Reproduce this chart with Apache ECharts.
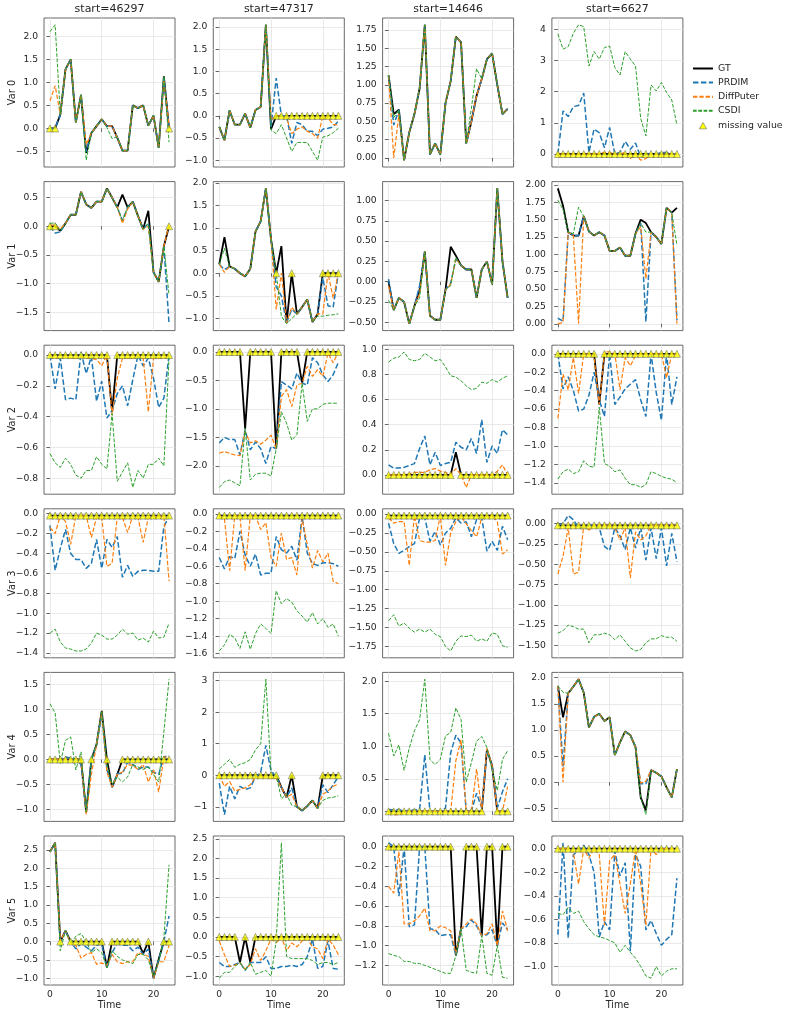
<!DOCTYPE html>
<html>
<head>
<meta charset="utf-8">
<script src="https://cdn.jsdelivr.net/npm/echarts@6/dist/echarts.min.js"></script>
<style>
html,body{margin:0;padding:0;background:#fff;}
#chart{width:790px;height:1015px;}
</style>
</head>
<body>
<div id="chart"></div>
<script>
// column titles / row labels
var starts = [46297, 47317, 14646, 6627];
var varNames = ['Var 0', 'Var 1', 'Var 2', 'Var 3', 'Var 4', 'Var 5'];
var timeTicks = [0, 10, 20];

// ---------------- Var 0 ----------------
var gt0 = [
  [0,0,0.3,1.28,1.5,0.13,0.73,-0.53,-0.1,0.05,0.2,0.05,0.05,-0.2,-0.48,-0.48,0.5,0.44,0.5,0.06,0.28,-0.42,1.13,0],
  [-0.25,-0.55,0.12,-0.2,-0.2,0.05,-0.27,0.13,0.2,2.05,-0.3,0,0,0,0,0,0,0,0,0,0,0,0,0],
  [1.13,0.6,0.66,-0.03,0.35,0.6,0.95,1.82,0.05,0.2,0.05,0.75,1.05,1.66,1.58,0.2,0.5,0.85,1.08,1.35,1.43,1.0,0.6,0.67],
  [0,0,0,0,0,0,0,0,0,0,0,0,0,0,0,0,0,0,0,0,0,0,0,0]
];
var prdim0 = [
  [0,0,0.3,1.28,1.5,0.13,0.73,-0.5,-0.1,0.05,0.2,0.05,0.05,-0.2,-0.48,-0.48,0.5,0.44,0.5,0.06,0.28,-0.42,1.1,0],
  [-0.25,-0.55,0.12,-0.2,-0.2,0.05,-0.27,0.13,0.2,2.05,-0.25,0.85,0,0,-0.62,-0.15,-0.2,-0.35,-0.35,-0.45,-0.3,-0.28,-0.25,-0.12],
  [1.13,0.45,0.66,-0.03,0.35,0.6,0.95,1.82,0.05,0.2,0.05,0.75,1.05,1.66,1.58,0.2,0.5,0.85,1.08,1.35,1.43,1.0,0.6,0.67],
  [0,1.38,1.2,1.52,1.55,1.95,0.05,0.8,0.68,0.2,0.85,0,0.05,0.4,0.15,0.35,-0.1,0,0,0,0.05,0.05,0,0]
];
var diff0 = [
  [0.6,0.93,0.3,1.28,1.5,0.13,0.73,-0.35,-0.1,0.05,0.2,0.05,0.05,-0.2,-0.48,-0.48,0.5,0.44,0.5,0.06,0.28,-0.42,1.05,0.05],
  [-0.25,-0.55,0.12,-0.2,-0.2,0.05,-0.27,0.13,0.2,2.05,-0.1,0,0,-0.05,-0.4,-0.3,-0.25,-0.35,-0.4,-0.5,0,-0.05,-0.2,-0.2],
  [1.13,0,0.6,-0.03,0.35,0.6,0.95,1.82,0.05,0.2,0.05,0.75,1.05,1.66,1.58,0.2,0.5,0.85,1.08,1.35,1.43,1.0,0.6,0.67],
  [0,0,0,0,0,0,0,0,0.02,0.05,0.05,0,0,0.05,-0.15,0,-0.2,-0.15,0,0,0,0,0,0]
];
var csdi0 = [
  [2.1,2.25,0.3,1.28,1.5,0.13,0.73,-0.69,-0.1,0.05,0.2,0.02,-0.22,-0.18,-0.48,-0.48,0.5,0.44,0.5,0.06,0.28,-0.42,1.13,-0.3],
  [-0.25,-0.55,0.12,-0.2,-0.2,0.05,-0.27,0.13,0.2,2.05,-0.32,-0.4,-0.2,-0.5,-0.8,-0.6,-0.6,-0.6,-0.8,-1.0,-0.48,-0.45,-0.38,-0.28],
  [1.13,0.55,0.66,-0.03,0.35,0.6,0.95,1.82,0.05,0.2,0.05,0.75,1.05,1.66,1.58,0.2,0.68,1.22,1.08,1.35,1.43,1.0,0.6,0.67],
  [3.85,3.36,3.44,3.87,4.14,4.08,2.82,3.28,3.04,3.41,3.46,2.77,2.53,3.28,3.04,2.82,1.14,0.58,2.21,2.02,2.29,1.97,1.73,0.93]
];
var miss0 = [
  [0,1,23],
  [11,12,13,14,15,16,17,18,19,20,21,22,23],
  [],
  [0,1,2,3,4,5,6,7,8,9,10,11,12,13,14,15,16,17,18,19,20,21,22,23]
];
var yTicks0 = [[-0.5,0,0.5,1,1.5,2],[-1,-0.5,0,0.5,1,1.5,2],[0,0.25,0.5,0.75,1,1.25,1.5,1.75],[0,1,2,3,4]];

// ---------------- Var 1 ----------------
var gt1 = [
  [0,0,-0.08,0.05,0.2,0.2,0.6,0.38,0.32,0.43,0.43,0.66,0.5,0.33,0.55,0.33,0.43,0.18,-0.05,0.27,-0.8,-0.97,-0.35,0],
  [0.2,0.8,0.15,0.1,0,-0.07,0.1,0.92,1.15,1.88,0.75,0,0.6,-1.1,0,-0.9,-0.75,-0.58,-1.08,-0.9,0,0,0,0],
  [0,-0.35,-0.2,-0.25,-0.52,-0.3,-0.1,0.37,-0.42,-0.47,-0.47,-0.1,0.43,0.32,0.2,0.15,0.15,-0.2,0.15,0.25,-0.03,1.15,0.25,-0.2],
  [1.95,1.7,1.32,1.27,1.27,1.55,1.33,1.27,1.32,1.27,1.05,1.05,1.1,0.98,0.98,1.3,1.5,1.45,1.32,1.25,1.15,1.67,1.6,1.67]
];
var prdim1 = [
  [0,-0.12,-0.1,0.05,0.2,0.2,0.6,0.38,0.32,0.43,0.43,0.66,0.5,0.33,0.1,0.33,0.43,0.18,-0.05,0.05,-0.8,-0.97,-0.35,-1.7],
  [0.2,0.08,0.15,0.1,0,-0.07,0.1,0.92,1.15,1.88,0.75,-0.3,-0.5,-1.1,-0.8,-0.9,-0.75,-0.58,-1.08,-0.9,-0.1,-0.72,-0.75,0],
  [0.03,-0.35,-0.2,-0.25,-0.52,-0.3,-0.05,0.37,-0.42,-0.47,-0.47,-0.1,-0.02,0.28,0.2,0.15,0.15,-0.2,0.15,0.25,-0.03,1.15,0.25,-0.2],
  [0.08,0.04,1.32,1.27,1.27,1.55,1.33,1.27,1.32,1.27,1.05,1.05,1.1,0.98,0.98,1.3,1.45,0.03,1.32,1.25,1.15,1.67,1.6,0.05]
];
var diff1 = [
  [0.02,0.02,-0.05,0.05,0.2,0.2,0.6,0.38,0.32,0.43,0.43,0.66,0.5,0.33,0.05,0.3,0.43,0.18,-0.05,0,-0.8,-0.97,-0.35,0.03],
  [0.2,0.02,0.15,0.1,0,-0.07,0.1,0.92,1.15,1.88,0.75,-0.8,0,-1.1,-0.75,-0.9,-0.75,-0.58,-1.08,-0.9,-0.9,0,-0.55,0],
  [-0.05,-0.35,-0.2,-0.25,-0.52,-0.3,-0.15,0.37,-0.42,-0.47,-0.47,-0.1,-0.03,0.28,0.2,0.15,0.15,-0.2,0.15,0.25,-0.03,1.15,0.25,-0.2],
  [0,0.02,1.32,1.27,0,1.55,1.33,1.27,1.32,1.27,1.05,1.05,1.1,0.98,0.98,1.3,1.4,0.65,1.32,1.25,1.15,1.67,1.6,0]
];
var csdi1 = [
  [0.05,0.06,-0.08,0.05,0.2,0.2,0.6,0.38,0.32,0.43,0.43,0.66,0.5,0.33,0.1,0.33,0.43,0.18,-0.05,0.05,-0.8,-0.97,-0.35,-1.2],
  [0.2,0.55,0.15,0.1,0,-0.07,0.1,0.92,1.15,1.88,0.75,0,-0.95,-1.12,-1.0,-0.9,-0.75,-0.58,-1.08,-0.95,-0.95,-0.93,-0.92,-0.9],
  [-0.23,-0.35,-0.2,-0.25,-0.52,-0.3,-0.2,0.37,-0.42,-0.47,-0.47,-0.1,-0.05,0.3,0.2,0.15,0.15,-0.2,0.15,0.25,-0.03,1.15,0.25,-0.2],
  [1.78,1.65,1.32,1.3,1.68,1.55,1.33,1.27,1.32,1.27,1.05,1.05,1.1,0.98,0.98,1.3,1.45,1.32,1.32,1.25,1.15,1.67,1.6,1.13]
];
var miss1 = [
  [0,1,23],
  [11,14,20,21,22,23],
  [],
  []
];
var yTicks1 = [[-1.5,-1,-0.5,0,0.5],[-1,-0.5,0,0.5,1,1.5,2],[-0.5,-0.25,0,0.25,0.5,0.75,1],[0,0.25,0.5,0.75,1,1.25,1.5,1.75,2]];

// ---------------- Var 2 ----------------
var gt2 = [
  [0,0,0,0,0,0,0,0,0,0,0,0,-0.37,0,0,0,0,0,0,0,0,0,0,0],
  [0,0,0,0,0,-1.35,0,0,0,0,0,-1.7,0,0,0,0,-0.55,0,0,0,0,0,0,0],
  [0,0,0,0,0,0,0,0,0,0,0,0,0,0.18,0,0,0,0,0,0,0,0,0,0],
  [0,0,0,0,0,0,0,0,-0.55,0,0,0,0,0,0,0,0,0,0,0,0,0,0,0]
];
var prdim2 = [
  [0,-0.22,-0.02,-0.29,-0.28,-0.29,0.02,-0.12,-0.01,-0.3,-0.17,-0.41,-0.36,-0.25,-0.2,-0.33,-0.16,0,-0.07,-0.02,-0.15,-0.34,-0.28,0],
  [-1.6,-1.5,-1.54,-1.54,-1.81,-1.37,-1.72,-1.58,-1.7,-1.96,-1.66,-1.7,-0.52,-0.58,-0.65,-0.37,-0.55,-0.58,-0.1,-0.19,-0.4,-0.52,-0.4,-0.18],
  [0.08,0.054,0.054,0.06,0.075,0.09,0.21,0.31,0.08,0.18,0.075,0.09,0.1,0.26,0.22,0.2,0.29,0.17,0.44,0.1,0.23,0.17,0.36,0.32],
  [0,-0.38,-0.25,-0.4,-0.62,-0.6,-0.45,-0.2,-0.5,-0.68,0,-0.55,-0.47,-0.38,-0.33,-0.28,-0.5,-0.68,0,-0.42,-0.72,0,-0.55,-0.25]
];
var diff2 = [
  [0,-0.02,-0.02,-0.01,-0.02,-0.02,-0.01,-0.02,-0.02,-0.03,-0.07,0,-0.39,-0.15,-0.02,-0.02,-0.02,0,-0.02,-0.37,-0.02,-0.02,-0.02,0],
  [-1.78,-1.75,-1.78,-1.81,-1.82,-1.4,-1.6,-1.56,-1.62,-1.55,-1.46,-1.7,-0.78,-0.66,-0.96,-0.58,-0.55,-0.25,-0.43,-0.31,-0.43,-0.02,-0.19,0],
  [0,0,0,0,0.01,0.02,0.02,0.02,0.04,0.05,0.03,0.02,0,0.05,0,-0.1,0,0,0,0,0,0.03,0.08,0],
  [-0.7,-0.22,-0.39,-0.04,-0.43,0,0,-0.04,-0.55,0.02,0.02,0,-0.39,-0.04,-0.13,-0.02,0,0,0,0,0,-0.26,0,0]
];
var csdi2 = [
  [-0.64,-0.7,-0.73,-0.67,-0.71,-0.78,-0.8,-0.75,-0.75,-0.66,-0.71,-0.74,-0.38,-0.82,-0.76,-0.7,-0.86,-0.75,-0.8,-0.71,-0.71,-0.67,-0.72,-0.02],
  [-2.38,-2.28,-2.25,-2.3,-2.35,-1.35,-2.25,-2.15,-2.13,-2.13,-2.18,-1.7,-1.05,-1.25,-1.55,-1.45,-0.55,-1.22,-1.0,-1.0,-0.92,-0.9,-0.9,-0.9],
  [0.9,0.93,0.94,0.98,0.92,0.91,0.92,0.97,0.94,0.91,0.92,0.86,0.79,0.78,0.75,0.71,0.68,0.69,0.74,0.73,0.76,0.74,0.77,0.79],
  [-1.36,-1.28,-1.25,-1.3,-1.28,-1.16,-1.22,-1.23,-0.58,-1.19,-1.22,-1.28,-1.26,-1.35,-1.42,-1.42,-1.45,-1.42,-1.28,-1.3,-1.33,-1.35,-1.36,-1.4]
];
var miss2 = [
  [0,1,2,3,4,5,6,7,8,9,10,11,13,14,15,16,17,18,19,20,21,22,23],
  [0,1,2,3,4,6,7,8,9,10,12,13,14,15,17,18,19,20,21,22,23],
  [0,1,2,3,4,5,6,7,8,9,10,11,12,14,15,16,17,18,19,20,21,22,23],
  [0,1,2,3,4,5,6,7,9,10,11,12,13,14,15,16,17,18,19,20,21,22,23]
];
var yTicks2 = [[-0.8,-0.6,-0.4,-0.2,0],[-2.5,-2,-1.5,-1,-0.5,0],[0,0.2,0.4,0.6,0.8,1],[-1.4,-1.2,-1,-0.8,-0.6,-0.4,-0.2,0]];

// ---------------- Var 3 ----------------
var gt3 = [
  [-0.02,-0.02,-0.02,-0.02,-0.02,-0.02,-0.02,-0.02,-0.02,-0.02,-0.02,-0.02,-0.02,-0.02,-0.02,-0.02,-0.02,-0.02,-0.02,-0.02,-0.02,-0.02,-0.02,-0.02],
  [-0.02,-0.02,-0.02,-0.02,-0.02,-0.02,-0.02,-0.02,-0.02,-0.02,-0.02,-0.02,-0.02,-0.02,-0.02,-0.02,-0.02,-0.02,-0.02,-0.02,-0.02,-0.02,-0.02,-0.02],
  [-0.02,-0.02,-0.02,-0.02,-0.02,-0.02,-0.02,-0.02,-0.02,-0.02,-0.02,-0.02,-0.02,-0.02,-0.02,-0.02,-0.02,-0.02,-0.02,-0.02,-0.02,-0.02,-0.02,-0.02],
  [-0.02,-0.02,-0.02,-0.02,-0.02,-0.02,-0.02,-0.02,-0.02,-0.02,-0.02,-0.02,-0.02,-0.02,-0.02,-0.02,-0.02,-0.02,-0.02,-0.02,-0.02,-0.02,-0.02,-0.02]
];
var prdim3 = [
  [-0.12,-0.57,-0.35,-0.16,-0.4,-0.46,-0.46,-0.55,-0.5,-0.26,-0.55,-0.26,-0.34,-0.23,-0.64,-0.52,-0.63,-0.58,-0.57,-0.57,-0.58,-0.58,-0.13,-0.03],
  [-0.5,-0.63,-0.49,-0.51,-0.2,-0.47,-0.6,-0.46,-0.7,-0.68,-0.68,-0.26,-0.41,-0.45,-0.37,-0.53,-0.03,-0.45,-0.57,-0.59,-0.56,-0.56,-0.57,-0.6],
  [-0.12,-0.39,-0.52,-0.48,-0.43,-0.39,-0.05,-0.05,-0.36,-0.23,-0.41,-0.25,-0.19,-0.05,-0.12,-0.1,-0.3,-0.07,-0.05,-0.49,-0.36,-0.48,-0.16,-0.34],
  [0,0,0.1,0.05,-0.05,-0.05,-0.02,-0.02,-0.05,-0.28,-0.33,-0.05,-0.15,-0.32,-0.05,-0.3,-0.05,-0.45,-0.05,-0.43,-0.05,-0.52,-0.12,-0.47]
];
var diff3 = [
  [-0.14,-0.2,-0.02,-0.08,-0.31,-0.02,-0.02,-0.02,-0.24,-0.04,-0.04,-0.53,-0.5,-0.04,-0.04,-0.19,-0.02,-0.04,-0.29,-0.04,-0.04,-0.03,-0.02,-0.68],
  [-0.02,-0.05,-0.65,-0.02,-0.03,-0.65,-0.02,-0.02,-0.18,-0.1,-0.5,-0.6,-0.22,-0.52,-0.5,-0.7,-0.05,-0.35,-0.62,-0.42,-0.55,-0.45,-0.77,-0.8],
  [-0.05,-0.12,-0.1,-0.1,-0.68,-0.02,-0.35,-0.37,-0.37,-0.35,-0.02,-0.68,-0.25,-0.1,-0.03,-0.13,-0.22,-0.3,-0.05,-0.05,-0.02,-0.1,-0.53,-0.47],
  [-0.62,-0.4,-0.05,-0.62,-0.6,-0.02,-0.08,-0.02,-0.02,-0.02,-0.02,-0.05,-0.2,-0.05,-0.67,-0.1,-0.2,-0.15,-0.02,-0.02,-0.02,-0.02,-0.02,-0.02]
];
var csdi3 = [
  [-1.2,-1.16,-1.29,-1.35,-1.36,-1.38,-1.38,-1.36,-1.3,-1.2,-1.22,-1.26,-1.26,-1.22,-1.16,-1.21,-1.2,-1.27,-1.25,-1.29,-1.18,-1.25,-1.24,-1.1],
  [-1.57,-1.5,-1.38,-1.42,-1.54,-1.35,-1.55,-1.37,-1.26,-1.31,-1.37,-0.88,-1.03,-0.97,-1.01,-1.11,-1.17,-1.24,-1.13,-1.26,-1.2,-1.3,-1.26,-1.4],
  [-1.41,-1.33,-1.48,-1.44,-1.51,-1.56,-1.52,-1.56,-1.52,-1.59,-1.62,-1.75,-1.81,-1.68,-1.61,-1.62,-1.6,-1.68,-1.65,-1.68,-1.57,-1.59,-1.74,-1.76],
  [-1.35,-1.32,-1.25,-1.27,-1.3,-1.3,-1.47,-1.37,-1.37,-1.35,-1.37,-1.43,-1.37,-1.45,-1.53,-1.57,-1.55,-1.47,-1.42,-1.42,-1.38,-1.4,-1.4,-1.45]
];
var miss3 = [
  [0,1,2,3,4,5,6,7,8,9,10,11,12,13,14,15,16,17,18,19,20,21,22,23],
  [0,1,2,3,4,5,6,7,8,9,10,11,12,13,14,15,16,17,18,19,20,21,22,23],
  [0,1,2,3,4,5,6,7,8,9,10,11,12,13,14,15,16,17,18,19,20,21,22,23],
  [0,1,2,3,4,5,6,7,8,9,10,11,12,13,14,15,16,17,18,19,20,21,22,23]
];
var yTicks3 = [[-1.4,-1.2,-1,-0.8,-0.6,-0.4,-0.2,0],[-1.6,-1.4,-1.2,-1,-0.8,-0.6,-0.4,-0.2,0],[-1.75,-1.5,-1.25,-1,-0.75,-0.5,-0.25,0],[-1.5,-1.25,-1,-0.75,-0.5,-0.25,0]];

// ---------------- Var 4 ----------------
var gt4 = [
  [0,0,0,0,0,0,0,-1.05,0,0.3,0.97,0,-0.55,-0.3,0,0,0,0,0,0,0,0,0,0],
  [0,0,0,0,0,0,0,0,0,0,0,0,-0.38,-0.7,0,-1.0,-1.12,-0.98,-0.8,-1.05,0,0,0,0],
  [0,0,0,0,0,0,0,0,0,0,0,0,0,0,0,0,0,0,0,0.95,0.7,0,0,0],
  [1.84,1.24,1.7,1.83,1.97,1.71,1.05,1.25,1.31,1.17,1.24,0.52,0.76,0.97,0.9,0.67,-0.29,-0.54,0.23,0.18,0.11,-0.1,-0.29,0.25]
];
var prdim4 = [
  [0,0,0,0.05,0.03,0,-0.1,-1.05,0,0.3,0.9,-0.2,-0.55,-0.28,-0.28,-0.05,-0.1,-0.2,-0.15,-0.15,-0.25,-0.3,0.05,0.08],
  [-0.25,-1.25,-0.35,-0.75,-0.35,-0.45,-0.4,-0.05,0.1,0.95,0.15,-0.05,-0.38,-0.7,-0.4,-1.0,-1.12,-0.98,-0.8,-1.05,-0.3,-0.55,-0.3,-0.05],
  [0.03,0.02,0.03,0,0.02,0.02,0.03,0.87,0,0,0,0.05,0.9,1.17,1.05,0,0,0.28,0.05,0.93,0.7,0.05,0.3,0.5],
  [1.84,0.3,1.7,1.83,1.97,1.71,1.05,1.25,1.31,1.17,1.24,0.52,0.76,0.97,0.9,0.67,-0.03,-0.03,0.23,0.18,0.11,-0.1,-0.29,0.25]
];
var diff4 = [
  [0,0,0,0,0,0,0,-1.1,-0.3,0.3,0.95,-0.25,-0.55,-0.3,-0.25,-0.1,-0.12,-0.2,-0.1,-0.45,-0.2,-0.65,0.05,0.03],
  [0,-0.35,-0.2,-0.5,-0.45,-0.4,-0.3,-0.05,-0.05,-0.05,-0.1,-0.1,-0.38,-0.7,-0.6,-1.0,-1.12,-0.98,-0.8,-1.05,-0.6,-0.5,-0.35,-0.28],
  [0,-0.05,-0.05,0,0,0,0,0,0,0,0,0,0,0.78,1.1,0,0,0.65,0,0.97,0.7,0,0,0.38],
  [1.84,0,1.7,1.83,1.97,1.71,1.05,1.25,1.31,1.17,1.24,0.52,0.76,0.97,0.9,0.67,-0.02,0.02,0.23,0.18,0.11,-0.1,-0.29,0.25]
];
var csdi4 = [
  [1.11,0.93,-0.08,0.38,0.45,-0.21,0.15,-1.05,0,0.3,0.97,-0.1,-0.5,-0.35,-0.45,-0.35,-0.1,-0.15,-0.2,-0.15,-0.3,-0.45,0.55,1.6],
  [0.2,0.35,0.5,0.25,0.35,0.4,0.5,0.8,1.0,3.05,0.05,0,-0.75,-0.6,-0.95,-1.0,-1.12,-0.98,-0.8,-1.05,-0.8,-0.72,-0.7,-0.65],
  [1.2,0.85,1.02,0.63,0.97,1.24,1.41,2.03,0.79,0.72,0.8,1.16,1.21,1.59,1.41,0.45,0.75,1.08,1.15,0.98,0.63,0.32,0.8,0.93],
  [1.84,1.72,1.7,1.83,1.97,1.71,1.05,1.25,1.31,1.17,1.24,0.52,0.76,0.97,0.9,0.67,-0.29,-0.62,0.23,0.18,0.11,-0.1,-0.29,0.25]
];
var miss4 = [
  [0,1,2,3,4,5,6,8,11,14,15,16,17,18,19,20,21,22,23],
  [0,1,2,3,4,5,6,7,8,9,10,11,14,20,21,22,23],
  [0,1,2,3,4,5,6,7,8,9,10,11,12,13,14,15,16,17,18,21,22,23],
  []
];
var yTicks4 = [[-1,-0.5,0,0.5,1,1.5],[-1,0,1,2,3],[0,0.5,1,1.5,2],[-0.5,0,0.5,1,1.5,2]];

// ---------------- Var 5 ----------------
var gt5 = [
  [2.45,2.7,0,0.3,0,0,0,0,0,0,0,-0.7,0,0,0,0,0,0,-0.33,0,-1.0,-0.48,0,0],
  [0,0,0,0,-0.65,0,-0.65,0,0,0,0,0,0,0,0,0,0,0,0,0,0,0,0,0],
  [0,0,0,0,0,0,0,0,0,0,0,0,0,-1.1,-0.83,0,0,0,-0.9,0,0,-1.0,0,0],
  [0,0,0,0,0,0,0,0,0,0,0,0,0,0,0,0,0,0,0,0,0,0,0,0]
];
var prdim5 = [
  [2.45,2.7,-0.05,0.3,0,-0.2,-0.05,-0.15,-0.25,-0.1,-0.05,-0.72,-0.3,-0.05,-0.1,-0.1,-0.25,-0.15,-0.35,-0.2,-1.0,-0.5,0,0.7],
  [-0.65,-0.75,-0.75,-0.7,-0.65,-0.85,-0.65,-0.65,-0.65,-0.5,-0.8,-0.8,-0.75,-0.75,-0.72,-0.75,-0.7,-0.5,-0.05,-0.8,-0.75,-0.1,-0.8,-0.82],
  [0.04,0,-0.5,0,-0.81,-0.79,0,0,-0.83,-0.84,-0.9,-0.89,-0.89,-1.1,-0.83,-0.81,-0.74,-0.8,-0.9,-0.89,-0.84,-1.0,-0.77,-0.84],
  [-0.73,0.05,-0.76,-0.05,-0.02,0.03,-0.05,-0.2,-0.75,-0.62,-0.69,-0.02,-0.23,-0.12,-0.87,-0.05,-0.15,-0.69,-0.61,-0.72,-0.82,-0.77,-0.73,-0.25]
];
var diff5 = [
  [2.45,2.7,0,0.3,-0.05,-0.1,-0.45,-0.35,-0.3,-0.62,-0.58,-0.65,-0.35,-0.55,-0.6,-0.55,-0.55,-0.3,-0.35,-0.4,-1.0,-0.55,-0.55,-0.1],
  [-0.1,-0.45,-0.75,-0.72,-0.65,-0.82,-0.7,-0.3,-0.6,-0.35,-0.05,-0.15,0,-0.35,-0.15,-0.25,-0.1,-0.05,-0.25,-0.3,-0.55,-0.05,-0.2,-0.45],
  [-0.4,-0.47,-0.05,-0.78,-0.78,-0.75,-0.7,-0.62,-0.85,-0.85,-0.8,-0.82,-0.85,-1.08,-0.83,-0.78,-0.73,-0.78,-0.9,-0.88,-0.78,-1.0,-0.65,-0.85],
  [0,0,0,-0.03,-0.3,0,-0.08,0,-0.05,-0.65,-0.1,-0.05,-0.3,-0.55,-0.3,0,-0.3,-0.65,0,-0.05,0,0,0,0]
];
var csdi5 = [
  [2.45,2.7,-0.25,0.3,-0.05,0.15,0.22,0,-0.3,-0.2,-0.3,-0.72,-0.25,-0.4,-0.5,-0.55,-0.6,-0.35,-0.35,-0.5,-0.95,-0.55,0.1,2.1],
  [-1.05,-0.9,-0.9,-0.75,-0.65,-0.85,-0.65,-0.95,-0.9,-0.85,-1.0,-0.1,2.4,-0.5,-0.55,-0.55,-0.55,-0.55,-0.6,-0.7,-0.65,-0.65,-0.7,-0.65],
  [-1.08,-1.1,-1.11,-1.16,-1.16,-1.18,-1.18,-1.2,-1.22,-1.24,-1.26,-1.28,-1.28,-1.1,-0.83,-1.25,-1.27,-1.28,-0.9,-1.28,-1.3,-1.0,-1.32,-1.33],
  [-0.55,-0.56,-0.5,-0.55,-0.53,-0.62,-0.68,-0.73,-0.75,-0.76,-0.78,-0.8,-0.88,-0.82,-0.88,-0.93,-1.0,-1.08,-1.1,-1.0,-1.08,-1.04,-1.02,-1.02]
];
var miss5 = [
  [2,4,5,6,7,8,9,10,12,13,14,15,16,17,19,22,23],
  [0,1,2,3,5,7,8,9,10,11,12,13,14,15,16,17,18,19,20,21,22,23],
  [0,1,2,3,4,5,6,7,8,9,10,11,12,15,16,17,19,20,22,23],
  [0,1,2,3,4,5,6,7,8,9,10,11,12,13,14,15,16,17,18,19,20,21,22,23]
];
var yTicks5 = [[-1,-0.5,0,0.5,1,1.5,2,2.5],[-1,-0.5,0,0.5,1,1.5,2,2.5],[-1.4,-1.2,-1,-0.8,-0.6,-0.4,-0.2,0],[-1,-0.8,-0.6,-0.4,-0.2,0]];

var GT = [gt0, gt1, gt2, gt3, gt4, gt5];
var PRDIM = [prdim0, prdim1, prdim2, prdim3, prdim4, prdim5];
var DIFF = [diff0, diff1, diff2, diff3, diff4, diff5];
var CSDI = [csdi0, csdi1, csdi2, csdi3, csdi4, csdi5];
var MISS = [miss0, miss1, miss2, miss3, miss4, miss5];
var YTICKS = [yTicks0, yTicks1, yTicks2, yTicks3, yTicks4, yTicks5];

var chart = echarts.init(document.getElementById('chart'), null, {renderer: 'canvas'});

var FONT = 'DejaVu Sans';
var txt = '#262626';
var grids = [], xAxes = [], yAxes = [], series = [];

function pts(arr) {
  return arr.map(function (v, i) { return [i, v]; });
}
function fmt(ticks) {
  var step = Math.abs(ticks[1] - ticks[0]);
  var d = step >= 1 ? 0 : (Math.round(step * 100) % 10 === 0 ? 1 : 2);
  return function (v) { return Number(v).toFixed(d).replace('-', '\u2212'); };
}

for (var r = 0; r < 6; r++) {
  for (var c = 0; c < 4; c++) {
    var k = r * 4 + c;
    var g = GT[r][c], p = PRDIM[r][c], dp = DIFF[r][c], cs = CSDI[r][c];
    var all = g.concat(p, dp, cs);
    var lo = Math.min.apply(null, all), hi = Math.max.apply(null, all);
    var pad = (hi - lo) * 0.05;
    var yt = YTICKS[r][c];

    grids.push({
      left: 44 + 169.3 * c, top: 18 + 163.6 * r, width: 131, height: 149,
      show: true, borderColor: '#444', borderWidth: 0.8, backgroundColor: 'transparent'
    });
    xAxes.push({
      type: 'value', gridIndex: k, min: -1.15, max: 24.15,
      axisLine: {show: false},
      axisTick: {show: true, customValues: timeTicks, length: 3.5, lineStyle: {color: '#444', width: 0.8}},
      axisLabel: {show: r === 5, customValues: timeTicks, fontSize: 9.2, color: txt, margin: 5, fontFamily: FONT},
      splitLine: {show: true, lineStyle: {color: '#e3e3e3', width: 0.8}},
      name: r === 5 ? 'Time' : '', nameLocation: 'middle', nameGap: 15, nameMoveOverlap: false,
      nameTextStyle: {fontSize: 9.6, color: txt, fontFamily: FONT}
    });
    yAxes.push({
      type: 'value', gridIndex: k, min: lo - pad, max: hi + pad,
      axisLine: {show: false},
      axisTick: {show: true, customValues: yt, length: 3.5, lineStyle: {color: '#444', width: 0.8}},
      axisLabel: {show: true, customValues: yt, fontSize: 9.2, color: txt, margin: 6, fontFamily: FONT, formatter: fmt(yt)},
      splitLine: {show: true, lineStyle: {color: '#e3e3e3', width: 0.8}},
      name: c === 0 ? varNames[r] : '', nameLocation: 'middle', nameGap: 27, nameMoveOverlap: false,
      nameTextStyle: {fontSize: 9.8, color: txt, fontFamily: FONT}
    });

    series.push({
      type: 'line', name: 'GT', xAxisIndex: k, yAxisIndex: k, data: pts(g),
      symbol: 'none', lineStyle: {color: '#000', width: 1.8}, itemStyle: {color: '#000'}, z: 2
    });
    series.push({
      type: 'line', name: 'PRDIM', xAxisIndex: k, yAxisIndex: k, data: pts(p),
      symbol: 'none', lineStyle: {color: '#1f77b4', width: 1.5, type: [5.5, 2.4]}, itemStyle: {color: '#1f77b4'}, z: 3
    });
    series.push({
      type: 'line', name: 'DiffPuter', xAxisIndex: k, yAxisIndex: k, data: pts(dp),
      symbol: 'none', lineStyle: {color: '#ff7f0e', width: 1.2, type: [4.4, 1.9]}, itemStyle: {color: '#ff7f0e'}, z: 4
    });
    series.push({
      type: 'line', name: 'CSDI', xAxisIndex: k, yAxisIndex: k, data: pts(cs),
      symbol: 'none', lineStyle: {color: '#2ca02c', width: 1, type: [3.7, 1.6]}, itemStyle: {color: '#2ca02c'}, z: 5
    });
    series.push({
      type: 'scatter', name: 'missing value', xAxisIndex: k, yAxisIndex: k,
      data: MISS[r][c].map(function (i) { return [i, g[i]]; }),
      symbol: 'triangle', symbolSize: 7,
      itemStyle: {color: '#ffff00', borderColor: '#555', borderWidth: 0.6}, z: 6
    });
  }
}

var titles = starts.map(function (s, c) {
  return {
    type: 'text', x: 44 + 169.3 * c + 65.5, y: 9,
    style: {text: 'start=' + s, fontSize: 11, fontFamily: FONT, fill: txt, align: 'center', verticalAlign: 'middle'}
  };
});

var noSym = {opacity: 0};
chart.setOption({
  animation: false,
  backgroundColor: '#fff',
  textStyle: {fontFamily: FONT},
  grid: grids,
  xAxis: xAxes,
  yAxis: yAxes,
  legend: {
    data: [
      {name: 'GT', itemStyle: noSym},
      {name: 'PRDIM', itemStyle: noSym},
      {name: 'DiffPuter', itemStyle: noSym},
      {name: 'CSDI', itemStyle: noSym},
      {name: 'missing value', icon: 'path://M0,0L0,0M20,10L20,10M10,1.8L13.6,8.2L6.4,8.2Z',
       itemStyle: {color: '#ffff00', borderColor: '#555', borderWidth: 0.5, opacity: 1}}
    ],
    orient: 'vertical', left: 687, top: 59, padding: 5,
    itemWidth: 20, itemHeight: 10, itemGap: 5.1,
    textStyle: {fontSize: 9.4, color: txt, fontFamily: FONT},
    selectedMode: false
  },
  graphic: titles,
  series: series
});
</script>
</body>
</html>
